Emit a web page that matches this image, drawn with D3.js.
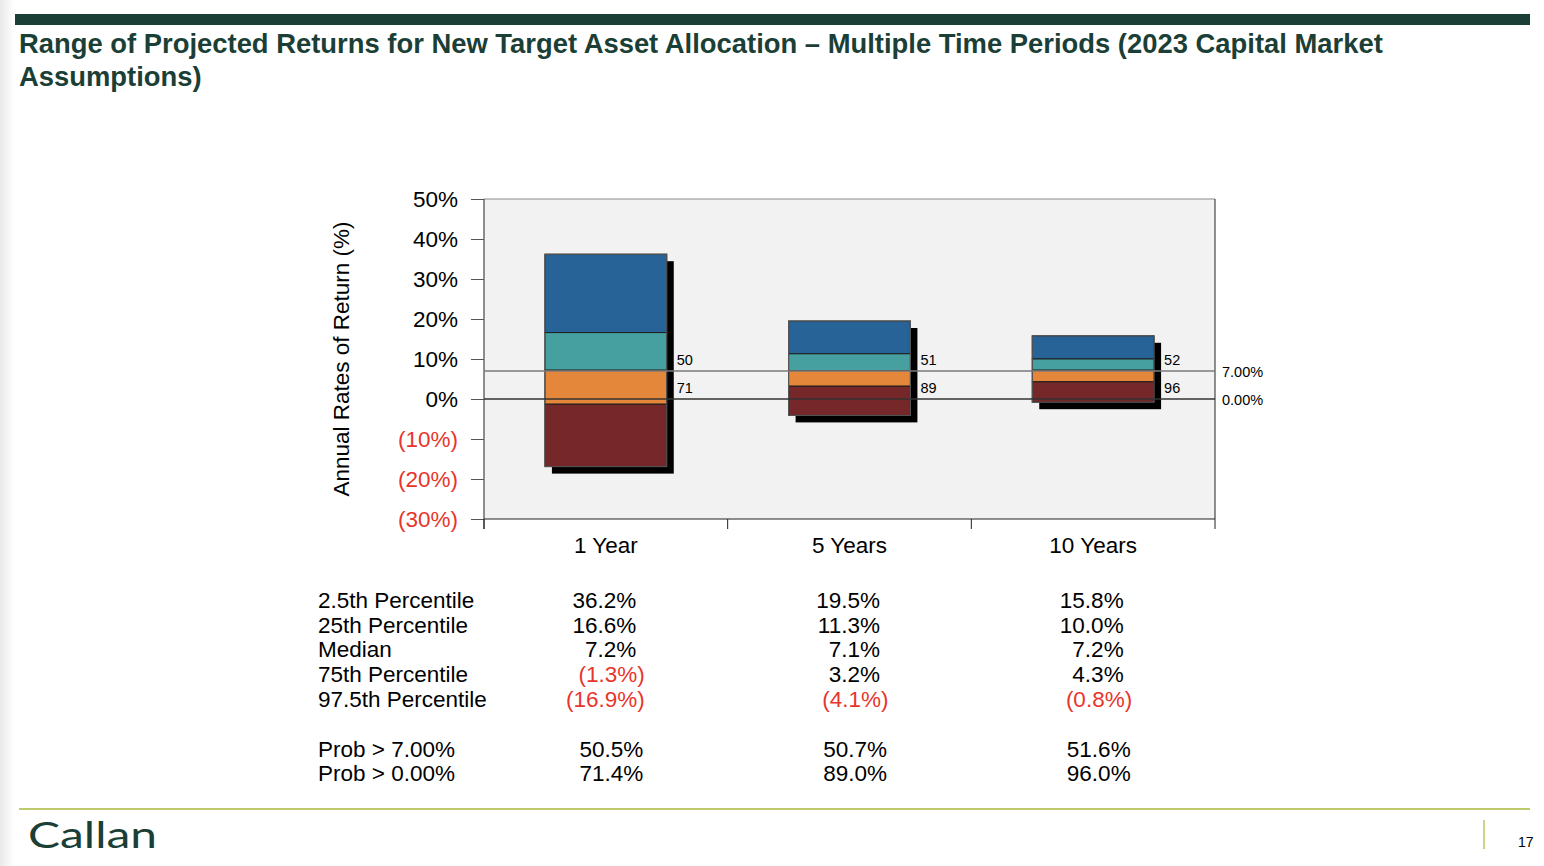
<!DOCTYPE html>
<html>
<head>
<meta charset="utf-8">
<script src="https://cdn.jsdelivr.net/npm/d3@7"></script>
<style>
  html, body { margin: 0; padding: 0; background: #fff; }
  svg { display: block; font-family: "Liberation Sans", Arial, sans-serif; }
</style>
</head>
<body>
<div id="chart"></div>
<script>
// Chart Data
const categories = ["1 Year", "5 Years", "10 Years"];
const p2_5 = [36.2, 19.5, 15.8];
const p25 = [16.6, 11.3, 10.0];
const median = [7.2, 7.1, 7.2];
const p75 = [-1.3, 3.2, 4.3];
const p97_5 = [-16.9, -4.1, -0.8];
const probAbove7 = [50.5, 50.7, 51.6];
const probAbove0 = [71.4, 89.0, 96.0];
const barLabel7 = ["50", "51", "52"];
const barLabel0 = ["71", "89", "96"];
const yTicks = [50, 40, 30, 20, 10, 0, -10, -20, -30];
const rowLabels = ["2.5th Percentile", "25th Percentile", "Median", "75th Percentile", "97.5th Percentile"];
const probLabels = ["Prob > 7.00%", "Prob > 0.00%"];
const targetReturn = 7;

// Dimensions
const W = 1544, H = 866;
const plot = { left: 484, right: 1215, top: 199, bottom: 519 };
const green = "#1b3f36", red = "#e8352c", olive = "#aab83c";
const bandColors = ["#276396", "#45a09f", "#e5873a", "#75272a"];
const fs = 22.5, small = 14.5;

const svg = d3.select("#chart").append("svg").attr("width", W).attr("height", H);

// Slide Background With Faint Left Shading
const defs = svg.append("defs");
const grad = defs.append("linearGradient").attr("id", "leftShade").attr("x1", 0).attr("x2", 1);
grad.append("stop").attr("offset", 0).attr("stop-color", "#e9e9e9");
grad.append("stop").attr("offset", 1).attr("stop-color", "#ffffff");
svg.append("rect").attr("width", W).attr("height", H).attr("fill", "#fff");
svg.append("rect").attr("width", 14).attr("height", H).attr("fill", "url(#leftShade)");

// Header Bar & Title
svg.append("rect").attr("x", 15).attr("y", 14).attr("width", 1515).attr("height", 11).attr("fill", green);
const title = svg.append("text").attr("x", 19).attr("fill", green)
  .attr("font-size", 27.4).attr("font-weight", "bold");
title.append("tspan").attr("x", 19).attr("y", 53)
  .text("Range of Projected Returns for New Target Asset Allocation \u2013 Multiple Time Periods (2023 Capital Market");
title.append("tspan").attr("x", 19).attr("y", 86).text("Assumptions)");

// Scales
const x = d3.scaleBand().domain(categories).range([plot.left, plot.right]).paddingInner(0.5).paddingOuter(0.25);
const y = d3.scaleLinear().domain([-30, 50]).range([plot.bottom, plot.top]);
const step = x.step();

// Plot Area
svg.append("rect").attr("x", plot.left).attr("y", plot.top)
  .attr("width", plot.right - plot.left).attr("height", plot.bottom - plot.top).attr("fill", "#f2f2f2");
svg.append("line").attr("x1", plot.left).attr("x2", plot.right).attr("y1", plot.top).attr("y2", plot.top).attr("stroke", "#8a8a8a");
svg.append("line").attr("x1", plot.right).attr("x2", plot.right).attr("y1", plot.top).attr("y2", plot.bottom).attr("stroke", "#222");

// Y Axis
const yAxis = d3.axisLeft(y).tickValues(yTicks).tickSize(13).tickPadding(13)
  .tickFormat(d => d < 0 ? "(" + Math.abs(d) + "%)" : d + "%");
const yG = svg.append("g").attr("transform", "translate(" + plot.left + ",0)").call(yAxis);
yG.select(".domain").attr("stroke", "#222").attr("d", "M0," + plot.top + "V" + (plot.bottom + 10));
yG.selectAll(".tick line").attr("stroke", "#555");
yG.selectAll(".tick text").attr("font-size", fs).attr("font-family", "Liberation Sans, Arial, sans-serif")
  .attr("fill", d => d < 0 ? red : "#000");

// X Axis
const xG = svg.append("g");
xG.append("line").attr("x1", plot.left).attr("x2", plot.right).attr("y1", plot.bottom).attr("y2", plot.bottom).attr("stroke", "#222");
xG.selectAll("line.tk").data(d3.range(categories.length + 1)).enter().append("line")
  .attr("class", "tk")
  .attr("x1", i => plot.left + i * step).attr("x2", i => plot.left + i * step)
  .attr("y1", plot.bottom).attr("y2", plot.bottom + 10).attr("stroke", "#222");
xG.selectAll("text").data(categories).enter().append("text")
  .attr("x", d => x(d) + x.bandwidth() / 2).attr("y", 553)
  .attr("text-anchor", "middle").attr("font-size", fs).text(d => d);

// Y Axis Title
svg.append("text").attr("transform", "translate(349," + (y(10)) + ") rotate(-90)")
  .attr("text-anchor", "middle").attr("font-size", fs).text("Annual Rates of Return (%)");

// Bars: Shadow Then Stacked Percentile Bands
const bars = svg.selectAll("g.bar").data(categories).enter().append("g").attr("class", "bar");
bars.append("rect")
  .attr("x", d => x(d) + 7).attr("y", (d, i) => y(p2_5[i]) + 7)
  .attr("width", x.bandwidth()).attr("height", (d, i) => y(p97_5[i]) - y(p2_5[i]))
  .attr("fill", "#000");
categories.forEach((c, i) => {
  const edges = [p2_5[i], p25[i], median[i], p75[i], p97_5[i]];
  for (let k = 0; k < 4; k++) {
    svg.append("rect")
      .attr("x", x(c)).attr("y", y(edges[k]))
      .attr("width", x.bandwidth()).attr("height", y(edges[k + 1]) - y(edges[k]))
      .attr("fill", bandColors[k]).attr("stroke", "#1e1e1e").attr("stroke-width", 1);
  }
  svg.append("rect").attr("x", x(c)).attr("y", y(p2_5[i]))
    .attr("width", x.bandwidth()).attr("height", y(p97_5[i]) - y(p2_5[i]))
    .attr("fill", "none").attr("stroke", "#5a5a5a").attr("stroke-width", 1);
});

// Reference Lines At Target & Zero
svg.append("line").attr("x1", plot.left).attr("x2", plot.right).attr("y1", y(targetReturn)).attr("y2", y(targetReturn))
  .attr("stroke", "#7a7a7a").attr("stroke-width", 1.3);
svg.append("line").attr("x1", plot.left).attr("x2", plot.right).attr("y1", y(0)).attr("y2", y(0))
  .attr("stroke", "#333").attr("stroke-width", 1.3);
svg.append("text").attr("x", 1222).attr("y", y(targetReturn) + 6).attr("font-size", small).text("7.00%");
svg.append("text").attr("x", 1222).attr("y", y(0) + 6).attr("font-size", small).text("0.00%");

// Probability Labels Next To Bars
categories.forEach((c, i) => {
  const lx = x(c) + x.bandwidth() + 10;
  svg.append("text").attr("x", lx).attr("y", y(targetReturn) - 6).attr("font-size", small).text(barLabel7[i]);
  svg.append("text").attr("x", lx).attr("y", y(0) - 6).attr("font-size", small).text(barLabel0[i]);
});

// Table Of Values
const fmt = v => v < 0 ? "(" + Math.abs(v).toFixed(1) + "%)" : v.toFixed(1) + "%";
const rows = [p2_5, p25, median, p75, p97_5];
const rowY = [608, 633, 657, 682, 707];
rowLabels.forEach((lab, r) => {
  svg.append("text").attr("x", 318).attr("y", rowY[r]).attr("font-size", fs).text(lab);
  categories.forEach((c, i) => {
    const v = rows[r][i];
    const rx = x(c) + x.bandwidth() / 2 + 30.5 + (v < 0 ? 8.5 : 0);
    svg.append("text").attr("x", rx).attr("y", rowY[r]).attr("text-anchor", "end")
      .attr("font-size", fs).attr("fill", v < 0 ? red : "#000").text(fmt(v));
  });
});
const probRows = [probAbove7, probAbove0];
const probY = [757, 781];
probLabels.forEach((lab, r) => {
  svg.append("text").attr("x", 318).attr("y", probY[r]).attr("font-size", fs).text(lab);
  categories.forEach((c, i) => {
    svg.append("text").attr("x", x(c) + x.bandwidth() / 2 + 37.5).attr("y", probY[r]).attr("text-anchor", "end")
      .attr("font-size", fs).text(probRows[r][i].toFixed(1) + "%");
  });
});

// Footer
svg.append("line").attr("x1", 19).attr("x2", 1530).attr("y1", 809).attr("y2", 809).attr("stroke", olive).attr("stroke-width", 1.5);
svg.append("text").attr("x", 28).attr("y", 848).attr("font-size", 37).attr("fill", green)
  .attr("font-family", "Lato, 'Open Sans', sans-serif")
  .attr("textLength", 129).attr("lengthAdjust", "spacingAndGlyphs").text("Callan");
svg.append("line").attr("x1", 1484).attr("x2", 1484).attr("y1", 820).attr("y2", 849).attr("stroke", olive).attr("stroke-width", 1.2);
svg.append("text").attr("x", 1518).attr("y", 847).attr("font-size", 14).text("17");
</script>
</body>
</html>
